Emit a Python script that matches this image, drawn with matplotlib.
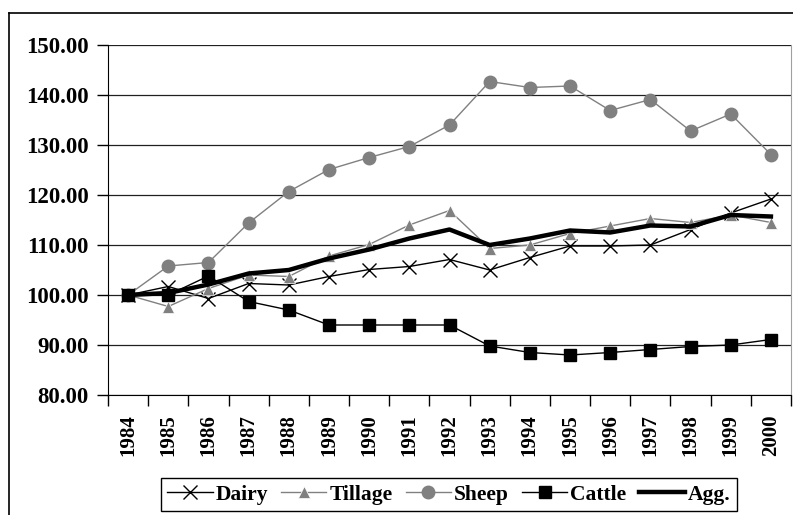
import numpy as np
import matplotlib
matplotlib.use('Agg')
import matplotlib.pyplot as plt
from matplotlib.lines import Line2D
from matplotlib.ticker import FormatStrFormatter

# --- Daten --- #
years = [str(y) for y in range(1984, 2001)]
dairy = [100, 101.7, 99.3, 102.3, 102.0, 103.7, 105.1, 105.7, 107.1, 105.0,
         107.5, 109.8, 109.8, 110.0, 113.1, 116.4, 119.2]
tillage = [100, 97.7, 101.3, 104.0, 103.7, 107.8, 110.1, 114.0, 116.9, 109.3,
           110.0, 112.3, 113.8, 115.3, 114.5, 116.0, 114.5]
sheep = [100, 105.8, 106.5, 114.4, 120.7, 125.1, 127.5, 129.7, 134.0, 142.7,
         141.5, 141.8, 136.9, 139.1, 132.8, 136.2, 128.1]
cattle = [100, 100, 103.8, 98.7, 97.0, 94.0, 94.0, 94.0, 94.0, 89.8,
          88.5, 88.0, 88.5, 89.1, 89.7, 90.0, 91.1]
agg = [100, 100.4, 102.1, 104.3, 105.0, 107.3, 109.1, 111.3, 113.1, 110.0,
       111.3, 112.9, 112.5, 113.9, 113.7, 116.0, 115.7]

plt.rcParams['font.family'] = 'Liberation Serif'
plt.rcParams['font.weight'] = 'bold'

fig = plt.figure(figsize=(7.93, 5.15), dpi=100)
ax = fig.add_axes([108/793, 1-395/515, 683/793, 350/515])

x = np.arange(len(years))
grey = '#808080'
ax.plot(x, dairy, color='black', lw=1, marker='x', ms=10, mew=1, label='Dairy')
ax.plot(x, tillage, color=grey, lw=1, marker='^', ms=9, mec='white', mew=0.5, label='Tillage')
ax.plot(x, sheep, color=grey, lw=1, marker='o', ms=9, mec=grey, label='Sheep')
ax.plot(x, cattle, color='black', lw=1, marker='s', ms=9, label='Cattle')
ax.plot(x, agg, color='black', lw=3.2, label='Agg.')

# Achsen
ax.set_xlim(-0.5, len(years)-0.5)
ax.set_ylim(80, 150)
ax.set_yticks(np.arange(80, 151, 10))
ax.yaxis.set_major_formatter(FormatStrFormatter('%.2f'))
ax.grid(axis='y', color='#202020', lw=0.9)
ax.set_axisbelow(True)

ax.set_xticks(x)
ax.set_xticklabels(years, rotation=90, fontsize=15, fontweight='bold')
ax.set_xticks(np.arange(-0.5, len(years)), minor=True)
ax.tick_params(axis='x', which='major', length=0, pad=14)
ax.tick_params(axis='x', which='minor', length=8, width=1, direction='out')
ax.tick_params(axis='y', length=8, width=1, direction='out', labelsize=16.5, pad=6)

ax.spines['left'].set_color('black')
ax.spines['bottom'].set_color('black')
ax.spines['top'].set_visible(False)
ax.spines['right'].set_color('#a0a0a0')

# Rahmen
fig.add_artist(Line2D([9/793, 9/793], [0, 1-13/515], color='black', lw=1.2))
fig.add_artist(Line2D([9/793, 1], [1-13/515, 1-13/515], color='black', lw=1.2))

# Legende
leg = fig.legend(loc='upper center', bbox_to_anchor=(449/793, 1-478/515), ncol=5,
                 frameon=True, fancybox=False, edgecolor='black', framealpha=1,
                 fontsize=15.5, handlelength=2.1, handletextpad=0.15,
                 columnspacing=0.6, borderpad=0.3, borderaxespad=0)
leg.get_frame().set_linewidth(1)

fig.savefig('out.png', dpi=100)
